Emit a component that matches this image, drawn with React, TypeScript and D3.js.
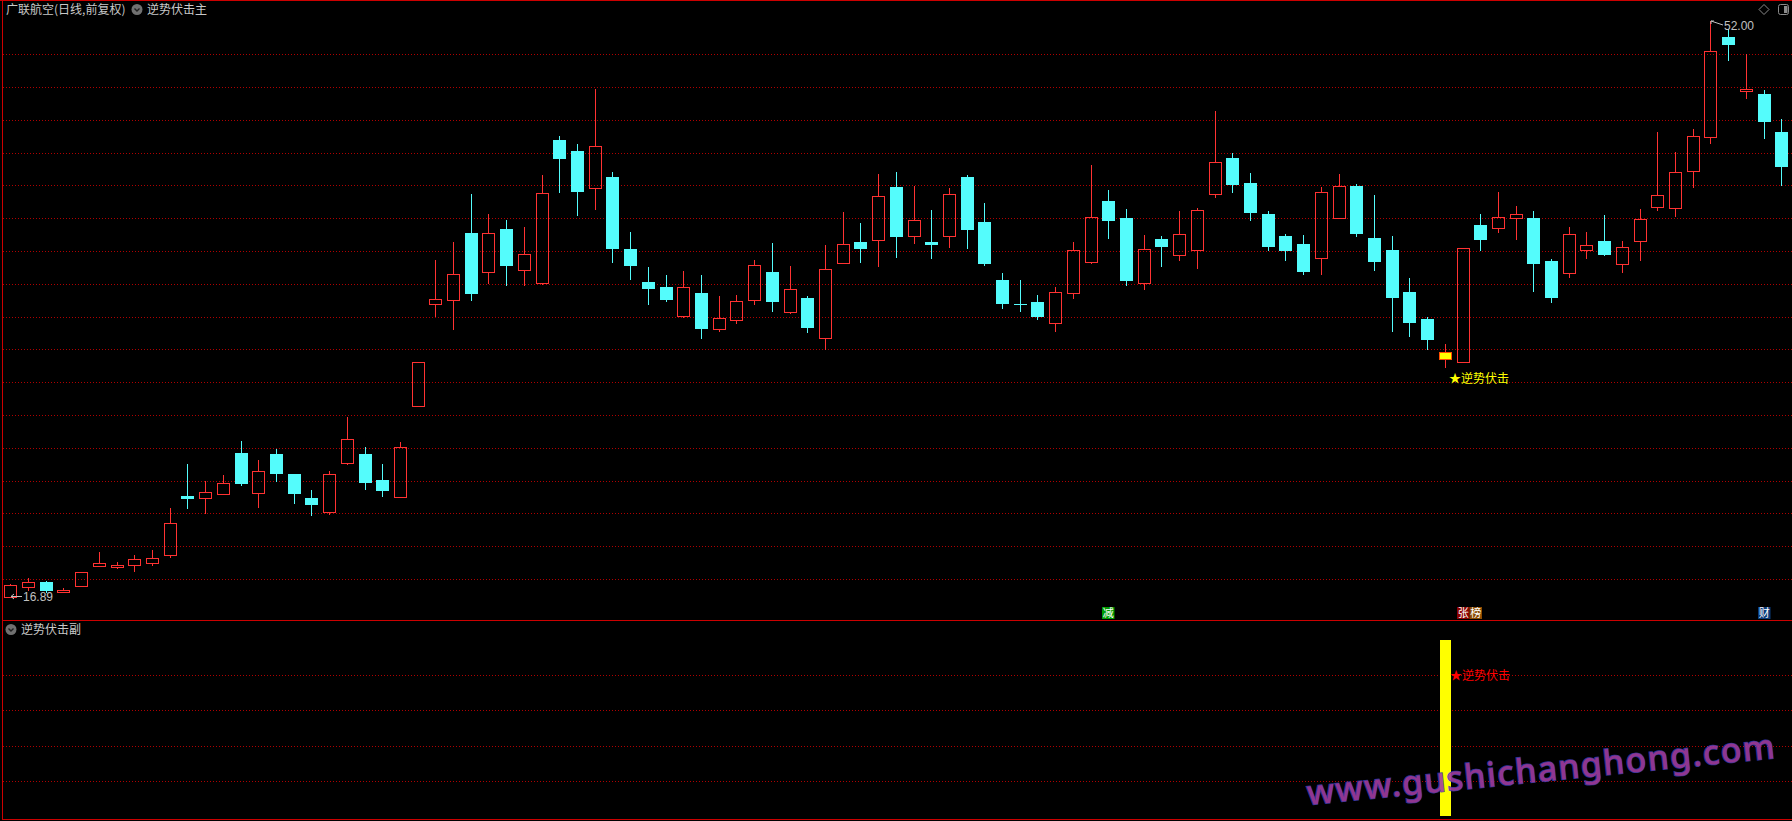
import React from "react";
import * as d3 from "d3";

const opens = [16.92,17.50,17.79,17.21,17.59,18.80,18.73,18.87,18.99,19.48,23.07,22.95,23.19,25.66,23.24,25.61,24.40,22.95,22.08,25.08,25.61,24.02,23.00,28.56,34.74,34.98,39.11,36.69,39.35,36.81,36.02,44.78,44.11,41.84,42.51,38.12,36.11,35.80,34.01,35.44,33.22,33.77,34.98,36.72,34.25,35.12,32.66,37.25,38.55,38.65,41.91,38.89,38.55,38.89,42.51,39.79,36.24,34.79,34.88,33.63,35.41,37.30,41.06,40.03,36.04,38.75,37.73,38.05,41.50,43.67,42.15,40.27,38.92,38.43,37.54,40.00,41.98,38.80,38.07,35.51,33.84,31.43,31.21,39.59,39.37,40.00,40.03,37.39,36.65,38.05,38.63,37.20,38.60,40.68,40.61,42.88,44.95,51.06,47.75,47.54,45.27];
const highs = [17.66,18.03,17.88,17.47,18.45,19.62,19.04,19.43,19.77,22.30,25.03,23.97,24.35,26.43,25.25,25.90,24.41,23.41,24.60,27.86,26.04,25.01,26.33,31.22,37.44,38.55,41.48,40.27,39.91,39.47,42.63,45.03,44.54,47.90,42.83,39.16,37.03,36.55,36.79,36.55,35.25,35.32,37.44,38.48,37.08,35.25,38.36,40.39,39.71,42.71,42.83,41.98,40.51,41.86,42.63,40.94,36.67,36.24,35.32,35.80,38.55,43.26,41.72,40.56,38.99,38.92,40.44,40.63,46.55,43.94,42.76,40.44,39.04,38.99,41.91,42.71,42.06,41.43,38.92,36.36,33.99,32.32,38.18,40.27,41.60,40.75,40.44,37.52,39.47,39.16,40.20,38.63,40.56,45.27,44.06,45.46,52.00,51.52,49.98,47.83,46.02];
const lows = [16.89,17.35,17.22,17.20,17.58,18.79,18.68,18.49,18.85,19.33,22.35,22.04,23.18,23.73,22.40,23.99,22.64,21.92,21.96,25.03,23.48,23.07,22.98,28.55,34.06,33.26,35.03,36.04,35.95,35.95,36.00,41.57,40.17,40.58,37.30,36.26,34.79,34.97,34.00,32.66,33.14,33.58,34.74,34.35,34.24,33.07,32.01,37.24,37.30,37.10,37.64,38.51,37.54,38.26,38.19,37.17,34.54,34.35,33.87,33.14,35.10,37.29,38.77,35.95,35.70,37.06,37.47,36.94,41.26,41.62,39.86,38.07,37.47,36.57,36.57,39.99,38.92,36.86,33.14,32.83,31.99,30.87,31.20,38.07,39.13,38.70,35.58,34.86,36.43,37.54,37.77,36.69,37.42,40.49,40.10,41.91,44.59,49.64,47.32,44.86,42.01];
const closes = [17.64,17.79,17.25,17.35,18.44,18.94,18.82,19.19,19.26,21.38,22.88,23.29,23.87,23.77,24.57,24.40,23.19,22.52,24.38,26.53,23.85,23.36,26.04,31.21,35.05,36.60,35.39,39.08,37.06,37.80,41.52,43.58,41.57,44.40,38.14,37.06,35.66,34.98,35.78,33.26,33.89,34.93,37.13,34.86,35.66,33.31,36.89,38.41,38.14,41.35,38.82,39.91,38.34,41.48,39.30,37.18,34.79,34.74,33.99,35.49,38.05,40.07,39.81,36.14,38.12,38.22,39.04,40.49,43.43,42.01,40.29,38.22,37.97,36.69,41.57,41.96,39.06,37.30,35.15,33.63,32.59,31.84,38.17,38.65,40.07,40.24,37.18,35.15,39.04,38.36,37.78,38.22,39.95,41.43,42.80,45.03,50.19,50.56,47.87,45.85,43.09];

const signalDays = [81];
const signalValue = 1;
const gridPrices = d3.range(18, 51, 2);
const subGridValues = [0.2, 0.4, 0.6, 0.8];
const markers = [
  { day: 62, chars: ["减"], colors: ["#009a00"] },
  { day: 82, chars: ["张", "榜"], colors: ["#8a0000", "#8a4a00"] },
  { day: 99, chars: ["财"], colors: ["#0a3a78"] },
];
const titleMain = "广联航空(日线,前复权)";
const indMain = "逆势伏击主";
const indSub = "逆势伏击副";
const signalText = "★逆势伏击";
const watermark = "www.gushichanghong.com";

const W = 1792, H = 821;
const RED = "#ff3232", CYAN = "#54fcfc", GRID = "#b00000", BORDER = "#cc0000";
const CJK = "'Noto Sans CJK SC', sans-serif";
const NUM = "'Liberation Sans', Arial, sans-serif";

export default function App() {
  const n = opens.length;
  const x = d3.scaleLinear().domain([0, n - 1]).range([10.3, 1781.3]);
  const y = d3.scaleLinear().domain([16, 52]).range([611.7, 21.3]);
  const ys = d3.scaleLinear().domain([0, 1]).range([816, 640]);
  const cxOf = (i: number) => Math.round(x(i));
  const py = (p: number) => Math.round(y(p));

  const hiIdx = d3.maxIndex(highs);
  const loIdx = d3.minIndex(lows);

  const candles = opens.map((o, i) => {
    const c = closes[i];
    const cx = cxOf(i);
    const top = py(Math.max(o, c));
    const bot = py(Math.min(o, c));
    const yh = py(highs[i]);
    const yl = py(lows[i]);
    const isSig = signalDays.includes(i);
    if (isSig) {
      return (
        <g key={i}>
          <line x1={cx + 0.5} x2={cx + 0.5} y1={yh} y2={yl} stroke={RED} />
          <rect x={cx - 5.5} y={top + 0.5} width={12} height={Math.max(1, bot - top)} fill="#ffff00" stroke="#ff5000" />
        </g>
      );
    }
    if (c >= o) {
      return (
        <g key={i}>
          {yh < top && <line x1={cx + 0.5} x2={cx + 0.5} y1={yh} y2={top} stroke={RED} />}
          {yl > bot && <line x1={cx + 0.5} x2={cx + 0.5} y1={bot} y2={yl + 1} stroke={RED} />}
          {bot - top >= 2 ? (
            <rect x={cx - 5.5} y={top + 0.5} width={12} height={bot - top} fill="none" stroke={RED} />
          ) : (
            <rect x={cx - 6} y={top} width={13} height={2} fill={RED} />
          )}
        </g>
      );
    }
    return (
      <g key={i}>
        <line x1={cx + 0.5} x2={cx + 0.5} y1={yh} y2={yl + 1} stroke={CYAN} />
        <rect x={cx - 6} y={top} width={13} height={Math.max(1, bot - top)} fill={CYAN} />
      </g>
    );
  });

  const hx = cxOf(hiIdx), hy = py(highs[hiIdx]);
  const lx = cxOf(loIdx), ly = py(lows[loIdx]);

  return (
    <div style={{ position: "fixed", left: 0, top: 0, width: W, height: H, background: "#000" }}>
      <svg width={W} height={H} style={{ display: "block", background: "#000" }}>
        {gridPrices.map((p) => (
          <line key={p} x1={3} x2={W} y1={py(p) + 0.5} y2={py(p) + 0.5} stroke={GRID} strokeDasharray="1 2" />
        ))}
        {subGridValues.map((v) => (
          <line key={v} x1={3} x2={W} y1={Math.round(ys(v)) + 0.5} y2={Math.round(ys(v)) + 0.5} stroke={GRID} strokeDasharray="1 2" />
        ))}
        <line x1={0} x2={W} y1={0.5} y2={0.5} stroke={BORDER} />
        <line x1={2.5} x2={2.5} y1={0} y2={820} stroke={BORDER} />
        <line x1={2} x2={W} y1={620.5} y2={620.5} stroke={BORDER} />
        <line x1={2} x2={W} y1={819.5} y2={819.5} stroke={BORDER} />

        <text x={6} y={14} fill="#c8c8c8" fontSize={12} fontFamily={CJK}>{titleMain}</text>
        <circle cx={137} cy={9.5} r={5.5} fill="#707070" />
        <path d="M134.5,8.5 L137,11 L139.5,8.5" fill="none" stroke="#202020" strokeWidth={1.4} />
        <text x={147} y={14} fill="#c8c8c8" fontSize={12} fontFamily={CJK}>{indMain}</text>
        <path d="M1764,4.5 L1769,9.5 L1764,14.5 L1759,9.5 Z" fill="none" stroke="#8a8a8a" />
        <rect x={1778.5} y={4.5} width={10} height={10} rx={2} fill="none" stroke="#8a8a8a" />
        <rect x={1784} y={6} width={3.5} height={7} fill="#8a8a8a" />

        {candles}

        <path d={`M${hx + 1},${hy} L${hx + 4},${hy} M${hx + 1},${hy} L${hx + 1},${hy + 3} M${hx + 1},${hy} L${hx + 13},${hy + 4}`} stroke="#c0c0c0" fill="none" />
        <text x={hx + 14} y={hy + 9} fill="#c0c0c0" fontSize={12} fontFamily={NUM}>{highs[hiIdx].toFixed(2)}</text>
        <path d={`M${lx + 1},${ly - 0.5} L${lx + 12},${ly - 0.5} M${lx + 1},${ly - 0.5} L${lx + 4},${ly - 3} M${lx + 1},${ly - 0.5} L${lx + 4},${ly + 2}`} stroke="#c0c0c0" fill="none" />
        <text x={lx + 13} y={ly + 4} fill="#c0c0c0" fontSize={12} fontFamily={NUM}>{lows[loIdx].toFixed(2)}</text>

        {signalDays.map((i) => (
          <text key={i} x={cxOf(i) + 4} y={py(lows[i]) + 15} fill="#ffff00" fontSize={12} fontFamily={CJK}>{signalText}</text>
        ))}

        {markers.map((m) =>
          m.chars.map((ch, k) => {
            const bx = cxOf(m.day) - 6 + k * 12.5;
            return (
              <g key={m.day + "-" + k}>
                <rect x={bx} y={607} width={12.5} height={12} fill={m.colors[k]} />
                <text x={bx + 6.25} y={617} textAnchor="middle" fill="#ffffff" fontSize={11} fontFamily={CJK}>{ch}</text>
              </g>
            );
          })
        )}

        <circle cx={11} cy={629.5} r={5.5} fill="#707070" />
        <path d="M8.5,628.5 L11,631 L13.5,628.5" fill="none" stroke="#202020" strokeWidth={1.4} />
        <text x={21} y={634} fill="#c8c8c8" fontSize={12} fontFamily={CJK}>{indSub}</text>
        {signalDays.map((i) => (
          <g key={"s" + i}>
            <rect x={cxOf(i) - 5} y={ys(signalValue)} width={11} height={ys(0) - ys(signalValue)} fill="#ffff00" />
            <text x={cxOf(i) + 5} y={Math.round(ys(0.8)) + 5} fill="#ff0000" fontSize={12} fontFamily={CJK}>{signalText}</text>
          </g>
        ))}

        <text
          transform="translate(1308,805) rotate(-5.75)"
          fontSize={34}
          fontWeight={500}
          fontFamily="'Noto Sans', sans-serif"
          fill="#a03ca0"
          stroke="#3a3aa8"
          strokeWidth={1.5}
          paintOrder="stroke"
          textLength={470}
          lengthAdjust="spacing"
          opacity={0.9}
        >
          {watermark}
        </text>
      </svg>
    </div>
  );
}
